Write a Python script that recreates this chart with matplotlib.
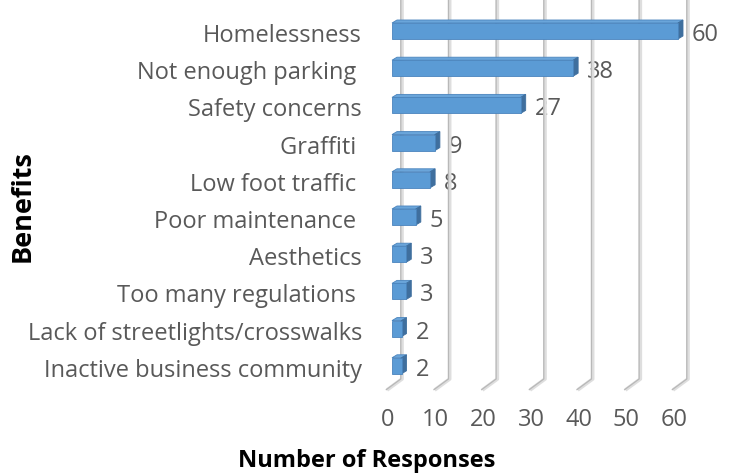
import matplotlib
matplotlib.use("Agg")
import matplotlib.pyplot as plt
from matplotlib.patches import Polygon
from matplotlib.transforms import IdentityTransform
import numpy as np

plt.rcParams['font.family'] = ['Open Sans', 'DejaVu Sans']

categories = ["Homelessness", "Not enough parking ", "Safety concerns", "Graffiti ",
              "Low foot traffic ", "Poor maintenance ", "Aesthetics", "Too many regulations ",
              "Lack of streetlights/crosswalks", "Inactive business community"]
responses = [60, 38, 27, 9, 8, 5, 3, 3, 2, 2]
x_ticks = [0, 10, 20, 30, 40, 50, 60]

FRONT = '#5b9bd5'
TOP = '#6aa5da'
SIDE = '#3f6f9e'
EDGE = '#4a84bd'
TXT = '#595959'
FS = 17

W, H = 732, 476
fig = plt.figure(figsize=(W / 100, H / 100), dpi=100)
# front plane of the bars: 0 -> px 392, 60 -> px 678; front floor edge at px 390
ax = fig.add_axes([392 / W, (H - 390) / H, (678 - 392) / W, 390 / H])
ax.set_xlim(0, 60)
ax.set_ylim(9.651, -0.833)
ax.axis('off')
Y_TOP, Y_BOT = -0.833, 9.651

DX, DY = 5, 3          # bar depth in pixels
BH = 0.43              # bar thickness


def disp(x, y, ox=0, oy=0):
    p = ax.transData.transform((x, y))
    return (p[0] + ox, p[1] + oy)


def poly(pts, **kw):
    fig.add_artist(Polygon(pts, closed=True, transform=IdentityTransform(), **kw))


# gridlines (back wall + floor)
for v in x_ticks:
    top = disp(v, Y_TOP, 10, 0)
    bottom = disp(v, Y_BOT, 10, 11)
    front = disp(v, Y_BOT, -5, 0)
    xs = [top[0], bottom[0], front[0]]
    ys = [top[1], bottom[1], front[1]]
    for lw, c, off in [(2.6, '#dedede', 0), (0.9, '#b8b8b8', -1.2)]:
        fig.add_artist(plt.Line2D([x + off for x in xs], ys, lw=lw, color=c,
                                  transform=IdentityTransform(), solid_capstyle='butt'))

# bars
for i, v in enumerate(responses):
    y0, y1 = i + BH / 2, i - BH / 2
    # top face
    poly([disp(0, y1), disp(v, y1), disp(v, y1, DX, DY), disp(0, y1, DX, DY)],
         facecolor=TOP, edgecolor=EDGE, lw=0.6, zorder=3)
    # side face
    poly([disp(v, y1), disp(v, y0), disp(v, y0, DX, DY), disp(v, y1, DX, DY)],
         facecolor=SIDE, edgecolor=SIDE, lw=0.6, zorder=3)
    # front face
    poly([disp(0, y0), disp(v, y0), disp(v, y1), disp(0, y1)],
         facecolor=FRONT, edgecolor=EDGE, lw=0.6, zorder=4)
    ax.annotate(str(v), (v, i), xytext=(14, -4), textcoords='offset pixels',
                ha='left', va='center', fontsize=FS, color=TXT, annotation_clip=False)
    ax.annotate(categories[i], (0, i), xytext=(-30, -5), textcoords='offset pixels',
                ha='right', va='center', fontsize=FS, color=TXT, annotation_clip=False)

for v in x_ticks:
    ax.annotate(str(v), (v, Y_BOT), xytext=(-4, -30), textcoords='offset pixels',
                ha='center', va='center', fontsize=FS, color=TXT, annotation_clip=False)

fig.text(367 / W, 1 - 461 / H, "Number of Responses", ha='center', va='center',
         fontsize=FS, fontweight='bold', color='black')
fig.text(23 / W, 1 - 206 / H, "Benefits", ha='center', va='center', rotation=90,
         fontsize=19.5, fontweight='bold', color='black')

fig.savefig("out.png", dpi=100)
